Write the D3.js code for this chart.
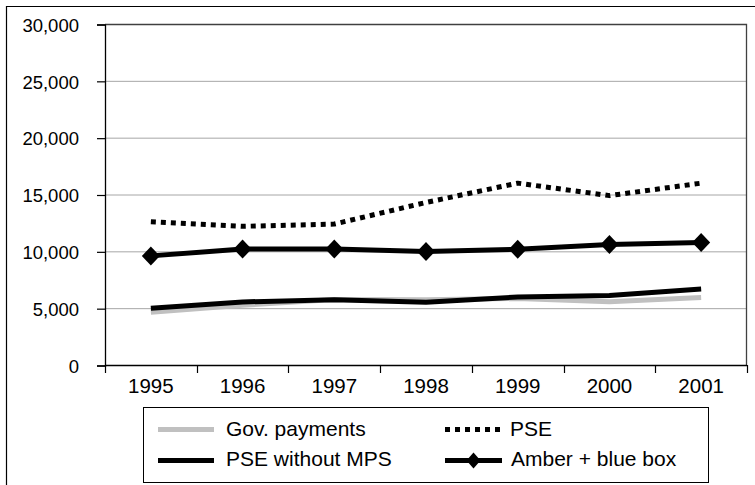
<!DOCTYPE html>
<html>
<head>
<meta charset="utf-8">
<script src="https://cdn.jsdelivr.net/npm/d3@7"></script>
<style>
  html, body { margin: 0; padding: 0; background: #fff; overflow: hidden; }
  svg { display: block; font-family: "Liberation Sans", Arial, sans-serif; }
</style>
</head>
<body>
<svg id="chart" width="755" height="485"></svg>
<script>
// Years on the category axis
const years = ["1995", "1996", "1997", "1998", "1999", "2000", "2001"];

// Series values
const govPayments   = [4650, 5250, 5760, 5730, 5850, 5570, 5940];
const pse           = [12600, 12200, 12400, 14300, 16000, 14900, 16000];
const pseWithoutMps = [5000, 5550, 5750, 5530, 5980, 6120, 6680];
const amberBlueBox  = [9600, 10200, 10200, 9980, 10180, 10600, 10780];

// Value-axis ticks
const yTicks = [0, 5000, 10000, 15000, 20000, 25000, 30000];

// Legend labels
const legendLabels = ["Gov. payments", "PSE", "PSE without MPS", "Amber + blue box"];

const svg = d3.select("#chart");

// Outer chart frame (continues past the right and bottom edges)
svg.append("path")
  .attr("d", "M6.5,485V6.5H755")
  .attr("fill", "none").attr("stroke", "#000").attr("stroke-width", 1.2);

const plot = { left: 105, right: 747, top: 24, bottom: 365 };

const x = d3.scaleBand().domain(years).range([plot.left, plot.right]).padding(0);
const y = d3.scaleLinear().domain([0, 30000]).range([plot.bottom, plot.top]);
const cx = d => x(d) + x.bandwidth() / 2;

// Horizontal gridlines
svg.append("g")
  .selectAll("line")
  .data(yTicks.filter(t => t > 0 && t < 30000))
  .join("line")
  .attr("x1", plot.left).attr("x2", plot.right)
  .attr("y1", d => y(d) + 0.5).attr("y2", d => y(d) + 0.5)
  .attr("stroke", "#a6a6a6").attr("stroke-width", 1);

// Plot area border (top and right)
svg.append("path")
  .attr("d", `M${plot.left},${y(30000) + 0.5}H${plot.right - 0.5}V${plot.bottom}`)
  .attr("fill", "none").attr("stroke", "#404040").attr("stroke-width", 1.3);

// Y axis
const yAxis = svg.append("g")
  .attr("transform", `translate(${plot.left},0.5)`)
  .call(d3.axisLeft(y).tickValues(yTicks).tickFormat(d3.format(",")).tickSize(8).tickPadding(18));
yAxis.select(".domain").attr("stroke", "#000").attr("stroke-width", 1.3);
yAxis.selectAll(".tick line").attr("stroke", "#000").attr("stroke-width", 1.2);
yAxis.selectAll(".tick text")
  .attr("font-family", "Liberation Sans, Arial, sans-serif")
  .attr("font-size", "18.5px").attr("fill", "#000").attr("dy", "0.36em");

// X axis: labels centred in categories, ticks on category boundaries
const xAxis = svg.append("g")
  .attr("transform", `translate(0,${plot.bottom + 0.5})`)
  .call(d3.axisBottom(x).tickSize(0).tickPadding(0));
xAxis.select(".domain").remove();
xAxis.selectAll(".tick text")
  .attr("font-family", "Liberation Sans, Arial, sans-serif")
  .attr("font-size", "20.5px").attr("fill", "#000")
  .attr("dy", null).attr("y", 27);

svg.append("line")
  .attr("x1", plot.left).attr("x2", plot.right)
  .attr("y1", plot.bottom + 0.5).attr("y2", plot.bottom + 0.5)
  .attr("stroke", "#000").attr("stroke-width", 1.3);

const boundaries = d3.range(years.length + 1).map(i => plot.left + i * x.step());
svg.append("g")
  .selectAll("line")
  .data(boundaries)
  .join("line")
  .attr("x1", d => Math.round(d) + 0.5).attr("x2", d => Math.round(d) + 0.5)
  .attr("y1", plot.bottom).attr("y2", plot.bottom + 8)
  .attr("stroke", "#000").attr("stroke-width", 1.2);

// Series lines
const line = d3.line()
  .x((d, i) => cx(years[i]))
  .y(d => y(d));

const series = [
  { name: legendLabels[0], values: govPayments,   color: "#c0c0c0", width: 5, dash: null },
  { name: legendLabels[1], values: pse,           color: "#000",    width: 5, dash: "5,5" },
  { name: legendLabels[2], values: pseWithoutMps, color: "#000",    width: 5, dash: null },
  { name: legendLabels[3], values: amberBlueBox,  color: "#000",    width: 5, dash: null, marker: true }
];

const diamond = (hw, hh) => `M0,${-hh}L${hw},0L0,${hh}L${-hw},0Z`;

series.forEach(s => {
  svg.append("path")
    .datum(s.values)
    .attr("d", line)
    .attr("fill", "none")
    .attr("stroke", s.color)
    .attr("stroke-width", s.width)
    .attr("stroke-linejoin", "round")
    .attr("stroke-dasharray", s.dash);
  if (s.marker) {
    svg.append("g")
      .selectAll("path")
      .data(s.values)
      .join("path")
      .attr("transform", (d, i) => `translate(${cx(years[i])},${y(d)})`)
      .attr("d", diamond(9, 9.5))
      .attr("fill", "#000");
  }
});

// Legend
const legend = svg.append("g");
legend.append("rect")
  .attr("x", 143.5).attr("y", 407.5)
  .attr("width", 565).attr("height", 75)
  .attr("fill", "#fff").attr("stroke", "#000").attr("stroke-width", 1);

const legendPos = [
  { sx: 158, ex: 214, ly: 429.5, tx: 226, ty: 436 },
  { sx: 445, ex: 502, ly: 429.5, tx: 510, ty: 436 },
  { sx: 158, ex: 214, ly: 460.5, tx: 226, ty: 466 },
  { sx: 445, ex: 502, ly: 460.5, tx: 511, ty: 466 }
];

series.forEach((s, i) => {
  const p = legendPos[i];
  legend.append("line")
    .attr("x1", p.sx).attr("x2", p.ex)
    .attr("y1", p.ly).attr("y2", p.ly)
    .attr("stroke", s.color)
    .attr("stroke-width", s.width)
    .attr("stroke-dasharray", s.dash);
  if (s.marker) {
    legend.append("path")
      .attr("transform", `translate(${(p.sx + p.ex) / 2},${p.ly})`)
      .attr("d", diamond(7, 8))
      .attr("fill", "#000");
  }
  legend.append("text")
    .attr("x", p.tx).attr("y", p.ty)
    .attr("font-size", "21px").attr("fill", "#000")
    .text(s.name);
});
</script>
</body>
</html>
